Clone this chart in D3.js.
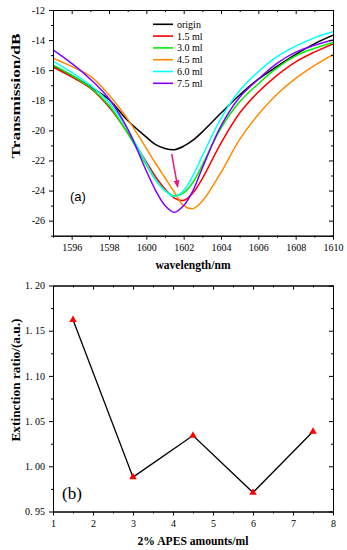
<!DOCTYPE html>
<html>
<head>
<meta charset="utf-8">
<script src="https://cdn.jsdelivr.net/npm/d3@7"></script>
<style>
body { margin: 0; background: #fff; }
svg { display: block; }
.axis path, .axis line { stroke: #000; }
</style>
</head>
<body>
<svg width="347" height="550"></svg>
<script>
// ---- panel (a): transmission spectra ----
const wavelengths = [1595, 1596, 1597, 1598, 1599, 1600, 1600.5, 1601, 1601.5, 1602, 1602.5, 1603, 1604, 1605, 1606, 1607, 1608, 1609, 1610];
const origin = [-15.7, -16.35, -17.1, -17.95, -19.35, -20.45, -20.95, -21.2, -21.28, -21.05, -20.65, -20.1, -18.85, -17.65, -16.6, -15.75, -14.95, -14.25, -13.68];
const ml15 = [-15.8, -16.45, -17.2, -18.45, -20.15, -22.1, -23.1, -23.9, -24.5, -24.65, -24.15, -23.2, -20.85, -18.85, -17.45, -16.35, -15.45, -14.8, -14.25];
const ml30 = [-15.65, -16.35, -17.15, -18.35, -20.2, -22.3, -23.3, -24.0, -24.35, -24.15, -23.45, -22.3, -19.85, -18.1, -16.9, -15.85, -15.05, -14.55, -14.15];
const ml45 = [-15.2, -15.75, -16.4, -17.65, -19.25, -21.2, -22.2, -23.15, -24.1, -25.0, -25.2, -24.7, -22.8, -20.6, -18.95, -17.6, -16.55, -15.7, -14.97];
const ml60 = [-15.4, -16.15, -17.0, -18.15, -19.95, -22.2, -23.3, -24.0, -24.4, -24.0, -23.0, -21.7, -19.2, -17.35, -16.1, -15.1, -14.4, -13.85, -13.45];
const ml75 = [-14.65, -15.55, -16.6, -17.9, -19.9, -22.7, -24.0, -25.0, -25.45, -25.0, -24.0, -22.5, -19.7, -17.8, -16.6, -15.55, -14.8, -14.35, -14.0];
const legendLabels = ["origin", "1.5 ml", "3.0 ml", "4.5 ml", "6.0 ml", "7.5 ml"];
const arrowFrom = [1601.36, -21.57];
const arrowTo = [1601.68, -23.77];

// ---- panel (b): extinction ratio ----
const amounts = [1.5, 3, 4.5, 6, 7.5];
const extinction = [1.162, 0.988, 1.034, 0.971, 1.0385];

const seriesA = [origin, ml15, ml30, ml45, ml60, ml75];
const colors = ["#000000", "#ff0000", "#00ee00", "#ff8a00", "#00ffff", "#8000ff"];

const svg = d3.select("svg");
const serif = "'Liberation Serif', 'Times New Roman', serif";

// one side of the frame; labels only where fmt is given
function side(g, axis, pos, values, size, fmt) {
    g.append("g").attr("class", "axis").attr("transform", pos)
        .call(axis.tickValues(values).tickSize(size).tickPadding(4).tickSizeOuter(0).tickFormat(fmt || ""))
        .attr("font-family", serif)
        .attr("font-size", 10);
}

// left/bottom ticks outward, top/right inward
function frame(g, x, y, xMajor, xMinor, yMajor, yMinor, xFmt, yFmt) {
    const [x0, x1] = x.range();
    const [y0, y1] = y.range();
    side(g, d3.axisBottom(x), `translate(0,${y0})`, xMajor, 4, xFmt);
    side(g, d3.axisBottom(x), `translate(0,${y0})`, xMinor, 2);
    side(g, d3.axisLeft(y), `translate(${x0},0)`, yMajor, 4, yFmt);
    side(g, d3.axisLeft(y), `translate(${x0},0)`, yMinor, 2);
    side(g, d3.axisTop(x), `translate(0,${y1})`, xMajor, -4);
    side(g, d3.axisTop(x), `translate(0,${y1})`, xMinor, -2);
    side(g, d3.axisRight(y), `translate(${x1},0)`, yMajor, -4);
    side(g, d3.axisRight(y), `translate(${x1},0)`, yMinor, -2);
}

function title(g, text, x, y, len, rotate) {
    g.append("text")
        .attr("transform", `translate(${x},${y})` + (rotate ? " rotate(-90)" : ""))
        .attr("text-anchor", "middle")
        .attr("textLength", len)
        .attr("lengthAdjust", "spacingAndGlyphs")
        .style("font-family", serif)
        .style("font-weight", "bold")
        .style("font-size", "12px")
        .text(text);
}

// ---------- panel (a) ----------
const xa = d3.scaleLinear().domain([1595, 1610]).range([53, 333]);
const ya = d3.scaleLinear().domain([-27, -12]).range([235.7, 10]);
const ga = svg.append("g");

ga.append("clipPath").attr("id", "clipA").append("rect")
    .attr("x", 53).attr("y", 10).attr("width", 280).attr("height", 225.7);

const lineA = d3.line()
    .x((d, i) => xa(wavelengths[i]))
    .y(d => ya(d))
    .curve(d3.curveCatmullRom.alpha(0.5));

ga.append("g").attr("clip-path", "url(#clipA)")
    .selectAll("path")
    .data(seriesA)
    .join("path")
    .attr("d", lineA)
    .attr("fill", "none")
    .attr("stroke", (d, i) => colors[i])
    .attr("stroke-width", 1.5);

frame(ga, xa, ya,
    d3.range(1596, 1611, 2), d3.range(1595, 1611, 2),
    d3.range(-26, -11, 2), d3.range(-27, -11, 2),
    d => String(d), d => String(d));

// legend
const legend = ga.append("g").selectAll("g")
    .data(legendLabels)
    .join("g")
    .attr("transform", (d, i) => `translate(153,${24.3 + i * 11.8})`);
legend.append("line")
    .attr("x1", 0).attr("x2", 20)
    .attr("stroke", (d, i) => colors[i])
    .attr("stroke-width", 1.6);
legend.append("text")
    .attr("x", 24).attr("dy", "0.35em")
    .style("font-family", serif).style("font-size", "10px")
    .text(d => d);

// arrow
ga.append("defs").append("marker")
    .attr("id", "head").attr("viewBox", "0 0 10 10")
    .attr("refX", 9).attr("refY", 5)
    .attr("markerWidth", 5).attr("markerHeight", 5)
    .attr("orient", "auto")
    .append("path").attr("d", "M0,1 L10,5 L0,9 Z").attr("fill", "#e8197c");
ga.append("line")
    .attr("x1", xa(arrowFrom[0])).attr("y1", ya(arrowFrom[1]))
    .attr("x2", xa(arrowTo[0])).attr("y2", ya(arrowTo[1]))
    .attr("stroke", "#e8197c").attr("stroke-width", 1.5)
    .attr("marker-end", "url(#head)");

ga.append("text").attr("x", 70).attr("y", 201)
    .style("font-family", "'Liberation Sans', Arial, sans-serif").style("font-size", "13px")
    .text("(a)");

title(ga, "wavelength/nm", 193, 269, 75, false);
title(ga, "Transmission/dB", 20, 96, 125, true);

// ---------- panel (b) ----------
const xb = d3.scaleLinear().domain([1, 8]).range([53, 333]);
const yb = d3.scaleLinear().domain([0.95, 1.20]).range([511.5, 285.5]);
const gb = svg.append("g");

gb.append("path")
    .datum(amounts)
    .attr("d", d3.line().x(d => xb(d)).y((d, i) => yb(extinction[i])))
    .attr("fill", "none")
    .attr("stroke", "#000")
    .attr("stroke-width", 1.3);

gb.selectAll("path.pt")
    .data(amounts)
    .join("path")
    .attr("class", "pt")
    .attr("transform", (d, i) => `translate(${xb(d)},${yb(extinction[i])})`)
    .attr("d", d3.symbol(d3.symbolTriangle).size(24))
    .attr("fill", "#ff0000");

frame(gb, xb, yb,
    d3.range(1, 9), d3.range(1.5, 8, 1),
    d3.range(0.95, 1.2001, 0.05), d3.range(0.975, 1.2, 0.05),
    d => String(d), d => d3.format(".2f")(d).replace(".", ". "));

gb.append("text").attr("x", 62).attr("y", 499)
    .style("font-family", serif).style("font-size", "17px")
    .text("(b)");

title(gb, "2% APES amounts/ml", 193, 545, 111, false);
title(gb, "Extinction ratio/(a.u.)", 20, 380, 123, true);
</script>
</body>
</html>
